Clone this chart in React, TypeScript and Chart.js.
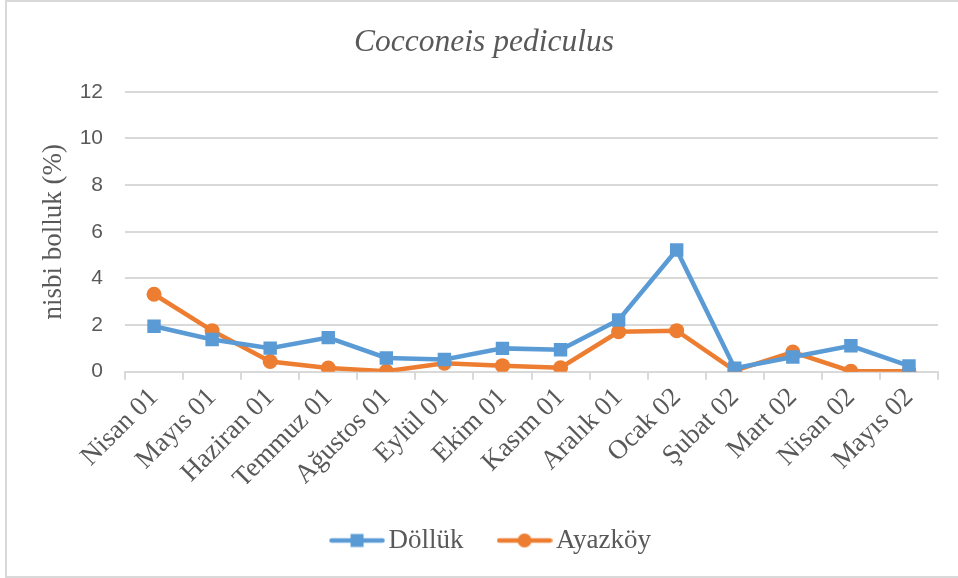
import React, { useEffect, useRef } from "react";
import { Chart, registerables } from "chart.js";

Chart.register(...registerables);

const categories = [
  "Nisan 01", "Mayıs 01", "Haziran 01", "Temmuz 01", "Ağustos 01", "Eylül 01", "Ekim 01",
  "Kasım 01", "Aralık 01", "Ocak 02", "Şubat 02", "Mart 02", "Nisan 02", "Mayıs 02",
];
const dollukValues = [1.95, 1.38, 1.01, 1.46, 0.59, 0.52, 1.0, 0.94, 2.22, 5.22, 0.15, 0.63, 1.11, 0.25];
const ayazkoyValues = [3.32, 1.76, 0.44, 0.16, 0.02, 0.36, 0.26, 0.17, 1.71, 1.76, 0.05, 0.84, 0.02, 0.02];
const yTicks = [0, 2, 4, 6, 8, 10, 12];

const BLUE = "#5B9BD5";
const ORANGE = "#ED7D31";
const TEXT = "#595959";
const GRID = "#d9d9d9";
const SERIF = "'Liberation Serif', 'Times New Roman', serif";
const SANS = "'Liberation Sans', Arial, sans-serif";

function legendImage(color: string, shape: "rect" | "circle"): HTMLCanvasElement {
  const c = document.createElement("canvas");
  c.width = 56;
  c.height = 16;
  const ctx = c.getContext("2d")!;
  ctx.strokeStyle = color;
  ctx.lineWidth = 4.5;
  ctx.lineCap = "round";
  ctx.beginPath();
  ctx.moveTo(2.5, 8);
  ctx.lineTo(53.5, 8);
  ctx.stroke();
  ctx.fillStyle = color;
  if (shape === "rect") {
    ctx.fillRect(28 - 6.5, 8 - 6.5, 13, 13);
  } else {
    ctx.beginPath();
    ctx.arc(28, 8, 7, 0, Math.PI * 2);
    ctx.fill();
  }
  return c;
}

const legendShift = {
  id: "legendShift",
  afterLayout(chart: any) {
    if (chart.legend) {
      chart.legend.left += 11;
      chart.legend.right += 11;
    }
  },
};

export default function App() {
  const ref = useRef<HTMLCanvasElement>(null);

  useEffect(() => {
    const canvas = ref.current!;
    const imgs = [legendImage(BLUE, "rect"), legendImage(ORANGE, "circle")];
    const chart = new Chart(canvas, {
      type: "line",
      data: {
        labels: categories,
        datasets: [
          {
            label: "Döllük",
            data: dollukValues,
            borderColor: BLUE,
            backgroundColor: BLUE,
            borderWidth: 4.5,
            pointStyle: "rect",
            pointRadius: 9.5,
            pointBorderWidth: 0,
            tension: 0,
          },
          {
            label: "Ayazköy",
            data: ayazkoyValues,
            borderColor: ORANGE,
            backgroundColor: ORANGE,
            borderWidth: 4.5,
            pointStyle: "circle",
            pointRadius: 7.5,
            pointBorderWidth: 0,
            tension: 0,
          },
        ],
      },
      plugins: [legendShift],
      options: {
        responsive: false,
        animation: false,
        devicePixelRatio: 1,
        layout: { padding: { top: 4, left: 30, right: 20, bottom: 14 } },
        plugins: {
          title: {
            display: true,
            text: "Cocconeis pediculus",
            color: TEXT,
            font: { family: SERIF, size: 31.5, style: "italic", weight: "normal" },
            padding: { top: 20, bottom: 30 },
          },
          legend: {
            position: "bottom",
            labels: {
              color: TEXT,
              font: { family: SERIF, size: 27 },
              usePointStyle: true,
              pointStyleWidth: 36,
              padding: 43,
              generateLabels: (ch: any) => {
                const items = Chart.defaults.plugins.legend.labels.generateLabels(ch);
                return items.map((it: any, i: number) => ({ ...it, pointStyle: imgs[i] }));
              },
            },
          },
          tooltip: { enabled: false },
        },
        scales: {
          x: {
            offset: true,
            afterFit: (scale: any) => {
              scale.height = scale.height - 13;
            },
            grid: {
              offset: true,
              drawOnChartArea: false,
              drawTicks: true,
              tickLength: 8,
              color: GRID,
              lineWidth: 2,
            },
            border: { display: true, color: GRID, width: 2 },
            ticks: {
              color: TEXT,
              font: { family: SERIF, size: 27 },
              autoSkip: false,
              maxRotation: 45,
              minRotation: 45,
              padding: 2,
            },
          },
          y: {
            min: 0,
            max: 12,
            afterBuildTicks: (scale: any) => {
              scale.ticks = yTicks.map((v) => ({ value: v }));
            },
            afterFit: (scale: any) => {
              scale.width = 95;
            },
            grid: { color: GRID, lineWidth: 2, drawTicks: false },
            border: { display: false },
            ticks: {
              color: TEXT,
              font: { family: SANS, size: 21 },
              padding: 22,
            },
            title: {
              display: true,
              text: "nisbi bolluk (%)",
              color: TEXT,
              font: { family: SERIF, size: 27 },
              padding: { top: 8, bottom: 0 },
            },
          },
        },
      },
    });
    return () => chart.destroy();
  }, []);

  return (
    <div style={{ position: "absolute", left: 0, top: 0, width: 958, height: 578, overflow: "hidden", background: "#fff" }}>
      <div
        style={{
          position: "absolute",
          left: 5,
          top: 0,
          width: 970,
          height: 578,
          boxSizing: "border-box",
          border: "2px solid " + GRID,
        }}
      />
      <canvas ref={ref} width={958} height={578} style={{ position: "absolute", left: 0, top: 0, width: 958, height: 578 }} />
    </div>
  );
}
